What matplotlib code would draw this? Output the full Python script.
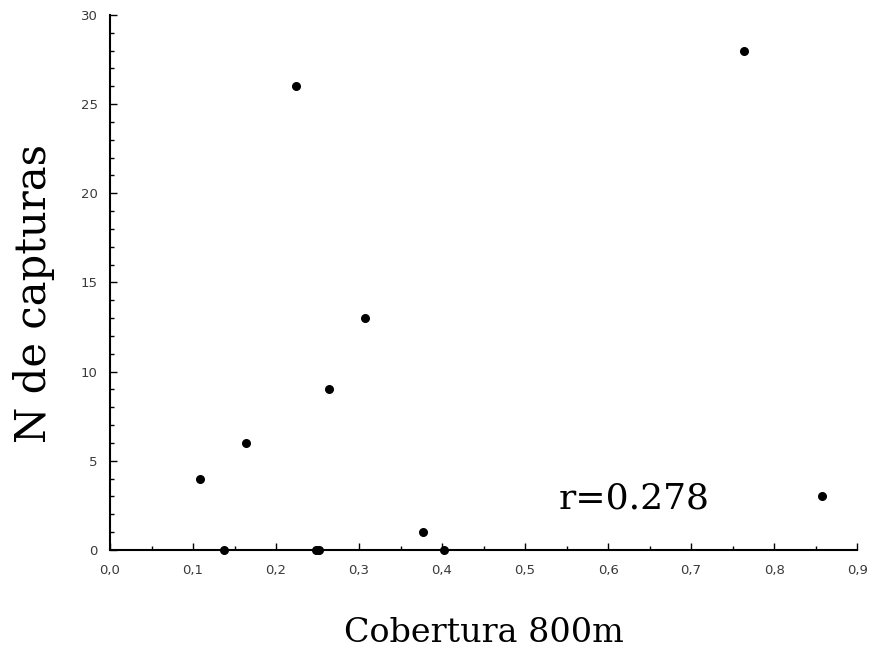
import numpy as np
import matplotlib.pyplot as plt
from matplotlib.ticker import MultipleLocator, FuncFormatter

# cobertura (x) vs numero de capturas (y)
cobertura = [0.108, 0.137, 0.164, 0.224, 0.248, 0.252, 0.264, 0.307, 0.377, 0.402, 0.764, 0.858]
capturas = [4, 0, 6, 26, 0, 0, 9, 13, 1, 0, 28, 3]
r_text = "r=0.278"

fig = plt.figure(figsize=(8.8, 6.53), dpi=100)
ax = fig.add_axes([0.125, 0.158, 0.849, 0.819])

ax.scatter(cobertura, capturas, s=30, color="black", zorder=3, clip_on=False)

ax.set_xlim(0, 0.9)
ax.set_ylim(0, 30)
ax.xaxis.set_major_locator(MultipleLocator(0.1))
ax.xaxis.set_minor_locator(MultipleLocator(0.05))
ax.yaxis.set_major_locator(MultipleLocator(5))
ax.yaxis.set_minor_locator(MultipleLocator(1))
ax.xaxis.set_major_formatter(FuncFormatter(lambda v, p: f"{v:.1f}".replace(".", ",")))
ax.yaxis.set_major_formatter(FuncFormatter(lambda v, p: f"{v:.0f}"))

for s in ["top", "right"]:
    ax.spines[s].set_visible(False)
ax.spines["left"].set_linewidth(1.5)
ax.spines["bottom"].set_linewidth(1.5)

ax.tick_params(which="both", direction="in", colors="black", labelcolor="#3a3a3a",
               labelsize=9.5, width=1)
ax.tick_params(which="major", length=5, pad=10)
ax.tick_params(which="minor", length=3)
ax.tick_params(axis="y", which="major", pad=9)

ax.set_xlabel("Cobertura 800m", family="DejaVu Serif", fontsize=24, labelpad=29)
ax.set_ylabel("N de capturas", family="DejaVu Serif", fontsize=30)
ax.yaxis.set_label_coords(-0.074, 0.48)

ax.text(0.541, 2.9, r_text, family="DejaVu Serif", fontsize=26, va="center")

fig.savefig("out.png", dpi=100)
